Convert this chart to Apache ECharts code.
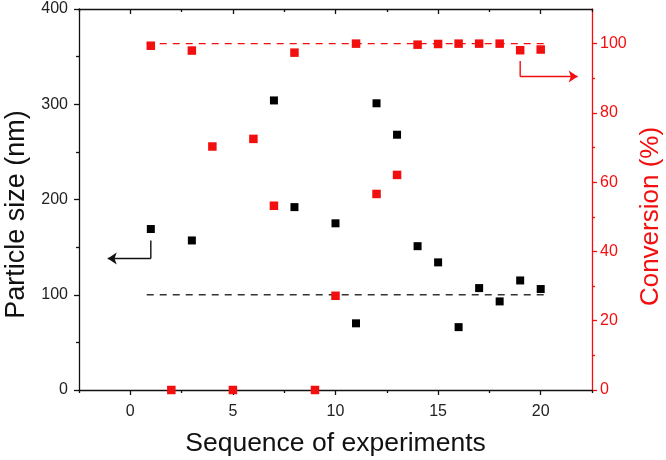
<!DOCTYPE html>
<html>
<head>
<meta charset="utf-8">
<script src="https://cdn.jsdelivr.net/npm/echarts@6/dist/echarts.min.js"></script>
<style>html,body{margin:0;padding:0;background:#fff}#c{width:666px;height:460px}</style>
</head>
<body>
<div id="c"></div>
<script>
// Particle size (nm) vs experiment number
const sizeX = [1, 3, 7, 8, 10, 11, 12, 13, 14, 15, 16, 17, 18, 19, 20];
const sizeY = [169, 157, 304, 192, 175, 70, 301, 268, 151, 134, 66, 107, 93, 115, 106];
// Conversion (%) vs experiment number
const convX = [1, 2, 3, 4, 5, 6, 7, 8, 9, 10, 11, 12, 13, 14, 15, 16, 17, 18, 19, 20];
const convY = [99.4, 0, 98.0, 70.3, 0, 72.5, 53.2, 97.4, 0, 27.2, 100, 56.6, 62.1, 99.7, 99.9, 100, 100, 100, 98.1, 98.3];
// reference (dashed) lines
const sizeRefX = [0.8, 20.2];
const sizeRefY = [100, 100];
const convRefX = [0.8, 20.2];
const convRefY = [100, 100];
// arrow annotations (data coordinates): elbow stem + arrow segment
const sizeArrowX = [1, 1, -1.1];
const sizeArrowY = [157, 138, 138];
const convArrowX = [19, 19, 21.8];
const convArrowY = [95, 90.5, 90.5];
// axis tick values
const xMajor = [0, 5, 10, 15, 20];
const xMinor = [-2.5, 2.5, 7.5, 12.5, 17.5, 22.5];
const convMajor = [0, 20, 40, 60, 80, 100];
const convMinor = [10, 30, 50, 70, 90];

const RED = '#f20f0f';
const FONT = '"Liberation Sans", Arial, sans-serif';
const zip = (a, b) => a.map((v, i) => [v, b[i]]);

const chart = echarts.init(document.getElementById('c'));
const hidden = { show: false };
const xBase = { type: 'value', min: -2.5, max: 22.5, splitLine: hidden, gridIndex: 0 };
chart.setOption({
  animation: false,
  backgroundColor: '#fff',
  grid: { left: 79, right: 74, top: 9, bottom: 70, containLabel: false, outerBoundsMode: 'none' },
  xAxis: [
    Object.assign({}, xBase, {
      position: 'bottom',
      name: 'Sequence of experiments', nameLocation: 'middle', nameGap: 40,
      nameTextStyle: { fontFamily: FONT, fontSize: 26.5, color: '#111' },
      axisLine: { show: true, onZero: false, lineStyle: { color: '#111', width: 1.3 } },
      axisTick: { show: true, inside: false, length: 5, customValues: xMajor, lineStyle: { color: '#111', width: 1.3 } },
      axisLabel: { customValues: xMajor, fontFamily: FONT, fontSize: 16, color: '#222', margin: 14 }
    }),
    Object.assign({}, xBase, {
      position: 'bottom',
      axisLine: { show: false, onZero: false },
      axisTick: { show: true, inside: false, length: 3, customValues: xMinor, lineStyle: { color: '#111', width: 1.3 } },
      axisLabel: hidden
    }),
    Object.assign({}, xBase, {
      position: 'top',
      axisLine: { show: true, onZero: false, lineStyle: { color: '#111', width: 1.3 } },
      axisTick: { show: true, inside: true, length: 5, customValues: xMajor, lineStyle: { color: '#111', width: 1.3 } },
      axisLabel: hidden
    }),
    Object.assign({}, xBase, {
      position: 'top',
      axisLine: { show: false, onZero: false },
      axisTick: { show: true, inside: true, length: 3, customValues: xMinor, lineStyle: { color: '#111', width: 1.3 } },
      axisLabel: hidden
    })
  ],
  yAxis: [
    {
      type: 'value', position: 'left', min: 0, max: 400, interval: 100,
      name: 'Particle size (nm)', nameLocation: 'middle', nameGap: 45, nameRotate: 90,
      nameTextStyle: { fontFamily: FONT, fontSize: 27, color: '#111', padding: [0, 30, 0, 0] },
      axisLine: { show: true, onZero: false, lineStyle: { color: '#111', width: 1.3 } },
      axisTick: { show: true, inside: false, length: 5, lineStyle: { color: '#111', width: 1.3 } },
      minorTick: { show: true, splitNumber: 2, length: 3, lineStyle: { color: '#111', width: 1.3 } },
      axisLabel: { fontFamily: FONT, fontSize: 16, color: '#222', margin: 11 },
      splitLine: hidden
    },
    {
      type: 'value', position: 'right', min: 0, max: 110,
      name: 'Conversion (%)', nameLocation: 'middle', nameGap: 38, nameRotate: 90,
      nameTextStyle: { fontFamily: FONT, fontSize: 26, color: RED, padding: [0, 34, 0, 0] },
      axisLine: { show: true, onZero: false, lineStyle: { color: RED, width: 1.3 } },
      axisTick: { show: true, inside: false, length: 5, customValues: convMajor, lineStyle: { color: RED, width: 1.3 } },
      axisLabel: { customValues: convMajor, fontFamily: FONT, fontSize: 16, color: RED, margin: 8 },
      splitLine: hidden
    },
    {
      type: 'value', position: 'right', min: 0, max: 110,
      axisLine: { show: false, onZero: false },
      axisTick: { show: true, inside: false, length: 3, customValues: convMinor, lineStyle: { color: RED, width: 1.3 } },
      axisLabel: hidden,
      splitLine: hidden
    }
  ],
  series: [
    {
      type: 'line', xAxisIndex: 0, yAxisIndex: 0, data: zip(sizeRefX, sizeRefY),
      symbol: 'none', lineStyle: { color: '#333', width: 1.4, type: [7, 6] }, z: 1
    },
    {
      type: 'line', xAxisIndex: 0, yAxisIndex: 1, data: zip(convRefX, convRefY),
      symbol: 'none', lineStyle: { color: RED, width: 1.4, type: [7, 6] }, z: 1
    },
    {
      type: 'scatter', xAxisIndex: 0, yAxisIndex: 0, data: zip(sizeX, sizeY),
      symbol: 'rect', symbolSize: 8, itemStyle: { color: '#000', opacity: 1 }, z: 3
    },
    {
      type: 'scatter', xAxisIndex: 0, yAxisIndex: 1, data: zip(convX, convY),
      symbol: 'rect', symbolSize: 8.5, itemStyle: { color: RED, opacity: 1 }, z: 3, clip: false
    },
    // arrow stems
    {
      type: 'line', xAxisIndex: 0, yAxisIndex: 0, data: zip(sizeArrowX.slice(0, 2), sizeArrowY.slice(0, 2)),
      symbol: 'none', lineStyle: { color: '#111', width: 1.4 }, z: 2
    },
    {
      type: 'line', xAxisIndex: 0, yAxisIndex: 1, data: zip(convArrowX.slice(0, 2), convArrowY.slice(0, 2)),
      symbol: 'none', lineStyle: { color: RED, width: 1.4 }, z: 2
    },
    // arrow heads
    {
      type: 'lines', coordinateSystem: 'cartesian2d', xAxisIndex: 0, yAxisIndex: 0,
      symbol: ['none', 'arrow'], symbolSize: 9,
      lineStyle: { color: '#111', width: 1.4, opacity: 1, curveness: 0 },
      data: [{ coords: zip(sizeArrowX.slice(1), sizeArrowY.slice(1)) }], z: 2
    },
    {
      type: 'lines', coordinateSystem: 'cartesian2d', xAxisIndex: 0, yAxisIndex: 1,
      symbol: ['none', 'arrow'], symbolSize: 9,
      lineStyle: { color: RED, width: 1.4, opacity: 1, curveness: 0 },
      data: [{ coords: zip(convArrowX.slice(1), convArrowY.slice(1)) }], z: 2
    }
  ]
});
</script>
</body>
</html>
